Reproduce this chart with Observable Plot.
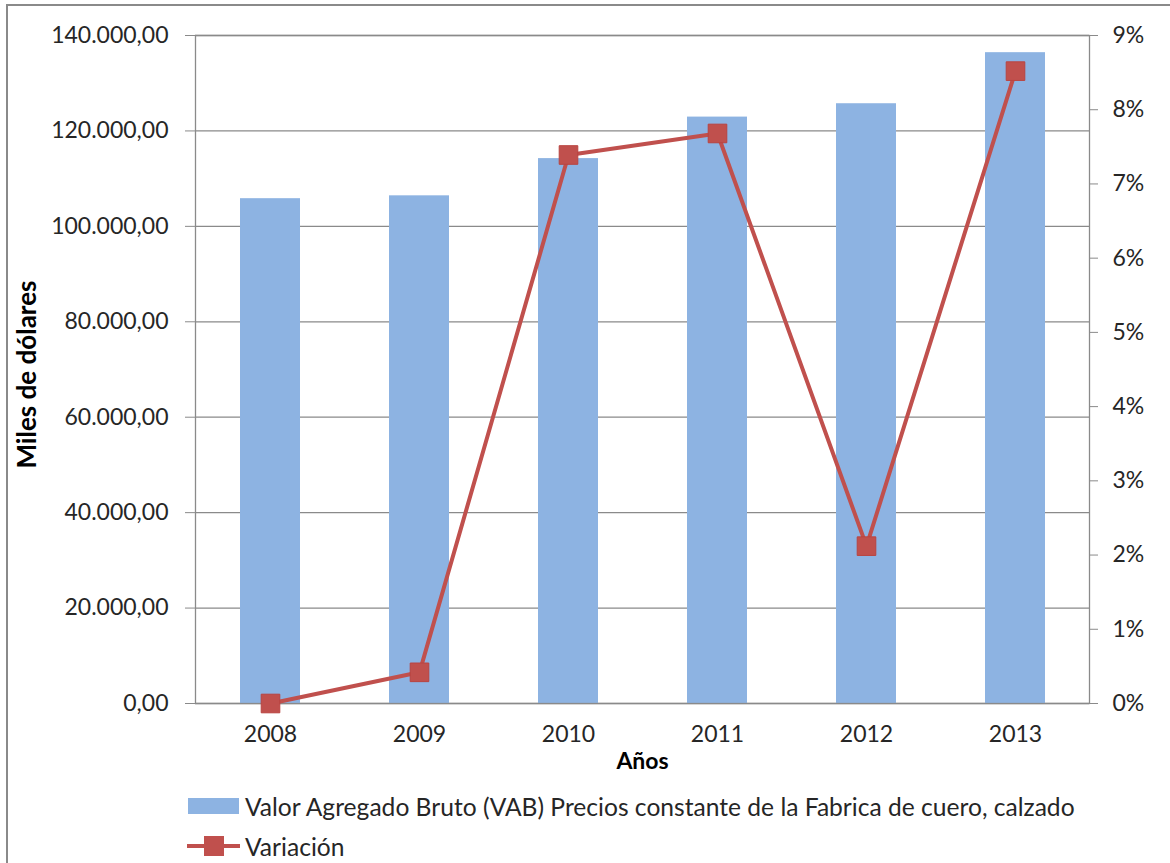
<!DOCTYPE html>
<html>
<head>
<meta charset="utf-8">
<script src="https://cdn.jsdelivr.net/npm/d3@7"></script>
<script src="https://cdn.jsdelivr.net/npm/@observablehq/plot@0.6"></script>
<style>
  body { margin: 0; background: #fff; font-family: Lato, "Open Sans", sans-serif; }
  #wrap { position: relative; width: 1170px; height: 863px; overflow: hidden; }
  #frame { position: absolute; left: 6px; top: 4px; width: 1200px; height: 900px; border: 2px solid #8a8a8a; pointer-events: none; }
  #legend { position: absolute; left: 186px; top: 786px; font-size: 24.6px; color: #262626; }
  .item { display: flex; align-items: center; height: 40px; }
  .item svg { margin-right: 5px; }
</style>
</head>
<body>
<div id="wrap">
  <div id="chart"></div>
  <div id="legend"></div>
  <div id="frame"></div>
</div>
<script>
const years = ["2008", "2009", "2010", "2011", "2012", "2013"];
const vab = [105800, 106400, 114200, 122900, 125700, 136400];
const variacion = [0, 0.42, 7.39, 7.68, 2.12, 8.52];
const leftTicks = [0, 20000, 40000, 60000, 80000, 100000, 120000, 140000];
const rightTicks = [0, 1, 2, 3, 4, 5, 6, 7, 8, 9];
const seriesNames = ["Valor Agregado Bruto (VAB) Precios constante de la Fabrica de cuero, calzado", "Variación"];

const barColor = "#8DB3E2";
const lineColor = "#C0504D";
const gridColor = "#8a8a8a";
const textColor = "#262626";
const k = 140000 / 9;

const locale = d3.formatLocale({decimal: ",", thousands: ".", grouping: [3], currency: ["", ""]});
const fmt = locale.format(",.2f");

const bars = years.map((y, i) => ({year: y, value: vab[i]}));
const line = years.map((y, i) => ({year: y, value: variacion[i] * k}));

const chart = Plot.plot({
  width: 1170,
  height: 790,
  marginTop: 35,
  marginLeft: 195,
  marginRight: 81,
  marginBottom: 87,
  style: {fontFamily: "Lato, 'Open Sans', sans-serif", fontSize: "23px", color: textColor, background: "transparent"},
  x: {domain: years, paddingInner: 0.6, paddingOuter: 0.3, label: null},
  y: {domain: [0, 140000], label: null},
  marks: [
    Plot.ruleY(leftTicks, {stroke: gridColor, strokeWidth: 1.3}),
    Plot.barY(bars, {x: "year", y: "value", fill: barColor}),
    Plot.frame({stroke: gridColor, strokeWidth: 1.3}),
    Plot.axisY(leftTicks, {anchor: "left", tickFormat: fmt, tickSize: 10, tickPadding: 17, fontSize: 23, stroke: gridColor, fill: textColor, label: null}),
    Plot.axisY(rightTicks.map(d => d * k), {anchor: "right", tickFormat: d => Math.round(d / k) + "%", tickSize: 8, tickPadding: 15, fontSize: 23, stroke: gridColor, fill: textColor, label: null}),
    Plot.axisX({anchor: "bottom", tickSize: 0, tickPadding: 22, fontSize: 23, fill: textColor, label: null}),
    Plot.line(line, {x: "year", y: "value", stroke: lineColor, strokeWidth: 4}),
    Plot.dot(line, {x: "year", y: "value", symbol: "square", r: 10.5, fill: lineColor, stroke: "#b94440", strokeWidth: 1}),
    Plot.text(["Años"], {frameAnchor: "bottom", dy: 65, fontWeight: "bold", fontSize: 23, fill: "#000"}),
    Plot.text(["Miles de dólares"], {frameAnchor: "left", textAnchor: "middle", dx: -168, dy: 5, rotate: -90, fontWeight: "bold", fontSize: 26, fill: "#000"})
  ]
});
document.getElementById("chart").appendChild(chart);

const legend = d3.select("#legend");
const it1 = legend.append("div").attr("class", "item");
const s1 = it1.append("svg").attr("width", 54).attr("height", 24);
s1.append("rect").attr("x", 2).attr("y", 4).attr("width", 51).attr("height", 16).attr("fill", barColor);
it1.append("span").text(seriesNames[0]);

const it2 = legend.append("div").attr("class", "item");
const s2 = it2.append("svg").attr("width", 54).attr("height", 24);
s2.append("line").attr("x1", 1).attr("x2", 54).attr("y1", 12).attr("y2", 12).attr("stroke", lineColor).attr("stroke-width", 4);
s2.append("rect").attr("x", 18).attr("y", 2).attr("width", 20).attr("height", 20).attr("fill", lineColor);
it2.append("span").text(seriesNames[1]);
</script>
</body>
</html>
